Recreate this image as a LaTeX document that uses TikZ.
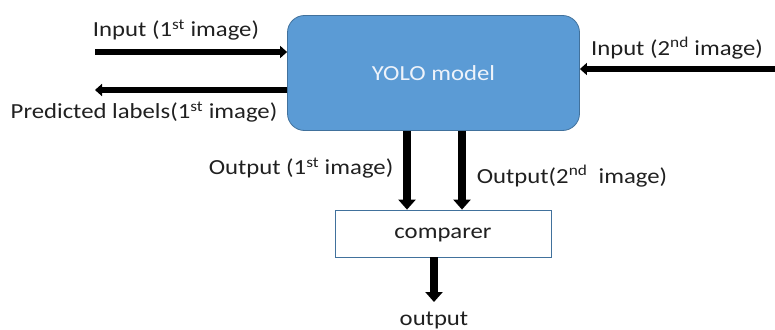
\documentclass[tikz,border=0pt]{standalone}
\usepackage{fontspec}
\setmainfont{Carlito}[FakeStretch=1.15]
\usetikzlibrary{arrows.meta}
\definecolor{yolofill}{RGB}{91,155,213}
\definecolor{yoloedge}{RGB}{65,113,156}
\definecolor{txt}{RGB}{32,32,32}
\definecolor{yolotxt}{RGB}{238,243,250}
\tikzset{
  lbl/.style={inner sep=0pt, text=txt, font=\fontsize{21.5}{24}\selectfont},
  yolobox/.style={draw=yoloedge, line width=0.8pt, fill=yolofill, rounded corners=17pt,
    minimum width=292pt, minimum height=115pt, text=yolotxt, font=\fontsize{21.5}{24}\selectfont},
  cmpbox/.style={draw=yoloedge, line width=0.8pt, fill=white, text depth=0pt,
    minimum width=216pt, minimum height=47pt, text=txt, font=\fontsize{21.5}{24}\selectfont},
  hflow/.style={line width=5.5pt, -{Triangle[length=7pt,width=12pt]}},
  vflow/.style={line width=8pt, -{Triangle[length=10pt,width=17pt]}},
}
\begin{document}
\begin{tikzpicture}[x=1pt,y=-1pt]
\useasboundingbox (0,0) rectangle (775,329);
\node[yolobox] (yolo) at (433.5,73) {YOLO model};
\node[cmpbox] (cmp) at (443,233.5) {comparer};
% labels
\node[lbl] (tin1) at (176,30) {Input (1\textsuperscript{st} image)};
\node[lbl] (tpred) at (144,112) {Predicted labels(1\textsuperscript{st} image)};
\node[lbl] (tin2) at (677,48) {Input (2\textsuperscript{nd} image)};
\node[lbl] (tout1) at (301,168) {Output (1\textsuperscript{st} image)};
\node[lbl] (tout2) at (572,176) {Output(2\textsuperscript{nd}\ \ image)};
\node[lbl] (tout) at (434,320) {output};
% free ends
\coordinate (a1) at (95,52);
\coordinate (a2) at (95,90);
\coordinate (a3) at (775,69);
\coordinate (o1) at (407,0);
\coordinate (o2) at (462,0);
\coordinate (o3) at (434,302);
% connectors
\draw[hflow] (a1) -- (a1 -| yolo.west);
\draw[hflow] (a2 -| yolo.west) -- (a2);
\draw[hflow] (a3) -- (a3 -| yolo.east);
\draw[vflow] (o1 |- yolo.south) -- (o1 |- cmp.north);
\draw[vflow] (o2 |- yolo.south) -- (o2 |- cmp.north);
\draw[vflow] (o3 |- cmp.south) -- (o3);
\end{tikzpicture}
\end{document}
